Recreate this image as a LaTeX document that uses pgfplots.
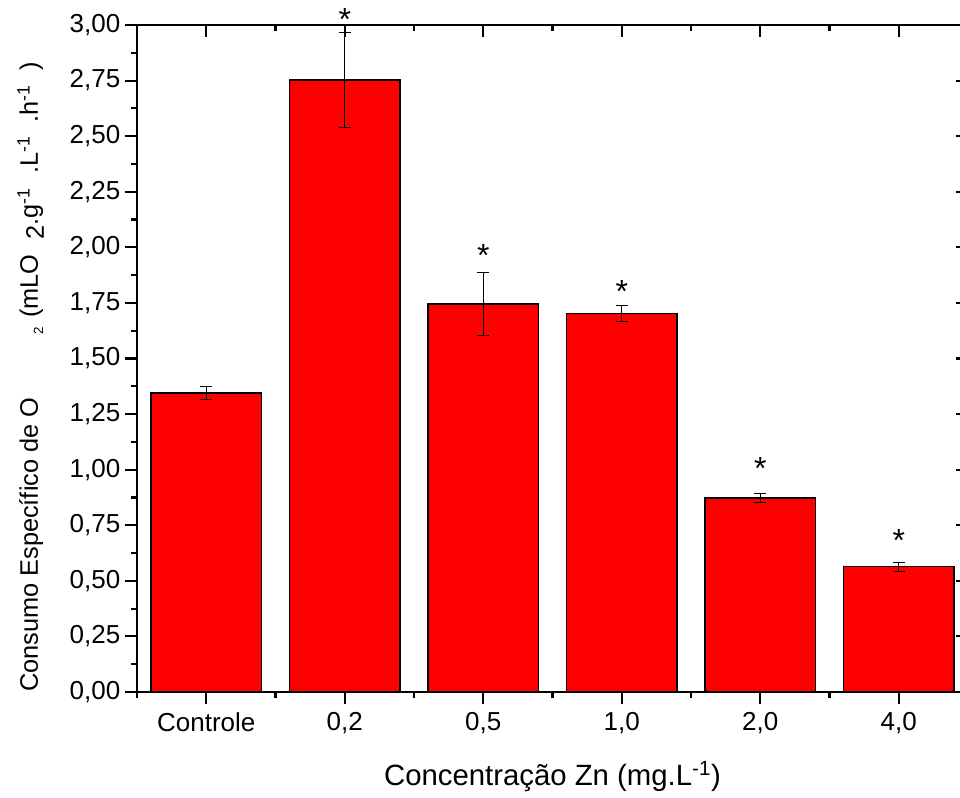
\documentclass[border=0pt]{standalone}
\usepackage{pgfplots}
\pgfplotsset{compat=1.18}
\usepackage{fontspec}
\setmainfont{Liberation Sans}
\pgfplotsset{common/.style={
  at={(0pt,0pt)}, anchor=south west, scale only axis,
  width=623.25pt, height=500.25pt,
  xmin=-0.5, xmax=5.5, ymin=0, ymax=3,
  xtick={0,1,2,3,4,5},
  minor xtick={-0.5,0.5,1.5,2.5,3.5,4.5,5.5},
  ytick={0,0.25,0.5,0.75,1,1.25,1.5,1.75,2,2.25,2.5,2.75,3},
  minor ytick={0.125,0.375,0.625,0.875,1.125,1.375,1.625,1.875,2.125,2.375,2.625,2.875},
  major tick length=9pt, minor tick length=4.5pt,
  major tick style={line width=1.6pt, black},
  minor tick style={line width=1.6pt, black},
  axis line style={line width=1.5pt},
}}
\begin{document}
\begin{tikzpicture}
\useasboundingbox (-102.75pt,-79.5pt) rectangle (617.25pt,519pt);
\clip (-102.75pt,-79.5pt) rectangle (617.25pt,519pt);
\begin{axis}[common, clip=false,
  tick align=outside, xtick pos=bottom, ytick pos=left,
  xticklabels={Controle,{0,2},{0,5},{1,0},{2,0},{4,0}},
  tick label style={font=\fontsize{19.5}{19.5}\selectfont},
  xticklabel style={yshift=-3pt},
  yticklabel style={/pgf/number format/.cd, fixed, fixed zerofill, precision=2, use comma, assume math mode=true},
  xlabel={Concentração Zn (mg.L\textsuperscript{-1})},
  xlabel style={at={(axis description cs:0.5,-0.127)}, anchor=center, font=\fontsize{22}{22}\selectfont},
  ylabel={Consumo Específico de O\hspace{2.5em}\raisebox{-0.4ex}{\fontsize{10}{10}\selectfont 2}\hspace{0.35em}(mLO\hspace{0.6em}\raisebox{-0.45ex}{2}.g\textsuperscript{-1}\hspace{0.55em}.L\textsuperscript{-1}\hspace{0.55em}.h\textsuperscript{-1}\hspace{0.55em})},
  ylabel style={at={(axis description cs:-0.128,0.472)}, anchor=center, font=\fontsize{19}{19}\selectfont},
]
\addplot[ybar, bar width=0.8, fill=red, draw=black, line width=1.2pt,
  error bars/.cd, y dir=both, y explicit,
  error bar style={line width=0.7pt, black},
  error mark options={rotate=90, mark size=4.5pt, line width=0.7pt, black}]
  coordinates {
  (0,1.345) +- (0,0.028)
  (1,2.752) +- (0,0.215)
  (2,1.745) +- (0,0.140)
  (3,1.703) +- (0,0.037)
  (4,0.872) +- (0,0.021)
  (5,0.564) +- (0,0.020)
  };
\addplot[draw=none, nodes near coords={*},
  every node near coord/.append style={anchor=center, font=\fontsize{24}{24}\selectfont}]
  coordinates {(1,3.025) (2,1.965) (3,1.800) (4,1.005) (5,0.680)};
\end{axis}
\begin{axis}[common, tick align=inside, axis x line*=top, axis y line*=right,
  xticklabels={}, yticklabels={}]
\end{axis}
\end{tikzpicture}
\end{document}
